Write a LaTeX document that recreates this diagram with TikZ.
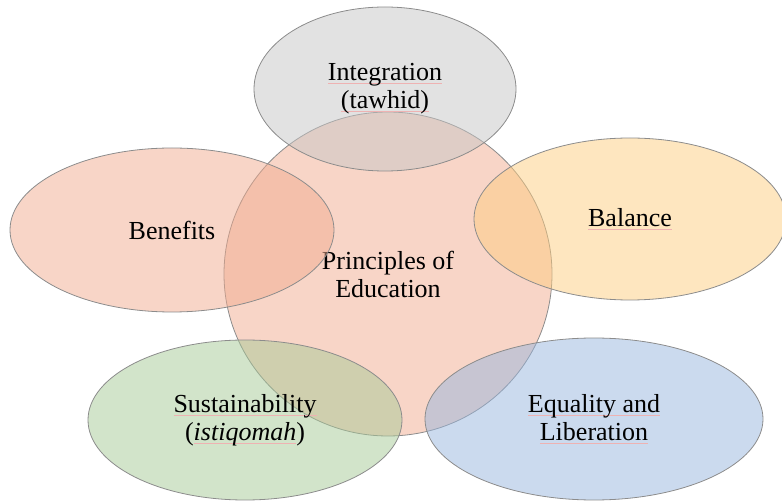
\documentclass[tikz,border=0pt]{standalone}
\usepackage{fontspec}
\setmainfont{Liberation Serif}
\usetikzlibrary{shapes.geometric}

\definecolor{petalorange}{RGB}{241,171,143}
\definecolor{petalgray}{RGB}{198,198,198}
\definecolor{petalyellow}{RGB}{253,205,128}
\definecolor{petalgreen}{RGB}{166,201,150}
\definecolor{petalblue}{RGB}{152,182,222}
\definecolor{spellred}{RGB}{238,178,178}

% faint wavy-check mark under a word
\newcommand\spellmark[1]{\setbox0=\hbox{#1}\rlap{\textcolor{spellred}{\rule[-3pt]{\wd0}{0.5pt}}}\box0}

\tikzset{
  petal/.style={ellipse, draw=black!45, line width=0.8pt, inner sep=0pt,
    align=center, fill opacity=0.5, text opacity=1}
}

\begin{document}
\begin{tikzpicture}[x=1pt, y=-1pt, font=\fontsize{26}{28}\selectfont]

    \useasboundingbox (0,0) rectangle (782,502);

    % the middle circle goes first, the petals lie over it
    \node[petal, fill=petalorange, minimum width=328pt, minimum height=324pt]
      (educ) at (388,274) {Principles of\\Education};

    % the five petals round it
    \node[petal, fill=petalgray, minimum width=262pt, minimum height=164pt]
      (integ) at (385,89) {\spellmark{Integration}\\\spellmark{(tawhid)}};
    \node[petal, fill=petalorange, minimum width=324pt, minimum height=164pt]
      (benef) at (172,230) {Benefits};
    \node[petal, fill=petalyellow, minimum width=312pt, minimum height=162pt]
      (balan) at (630,219) {\spellmark{Balance}};
    \node[petal, fill=petalgreen, minimum width=314pt, minimum height=160pt]
      (sustain) at (245,420) {\spellmark{Sustainability}\\(\spellmark{\textit{istiqomah}})};
    \node[petal, fill=petalblue, minimum width=338pt, minimum height=162pt]
      (equal) at (594,419) {\spellmark{Equality and}\\\spellmark{Liberation}};

  \end{tikzpicture}
\end{document}
